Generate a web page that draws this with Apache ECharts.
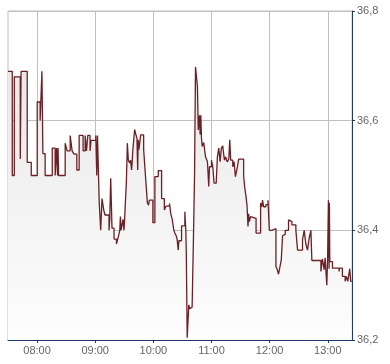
<!DOCTYPE html>
<html>
<head>
<meta charset="utf-8">
<script src="https://cdn.jsdelivr.net/npm/echarts@6/dist/echarts.min.js"></script>
<style>
html,body{margin:0;padding:0;background:#fff;}
#c{width:390px;height:364px;}
</style>
</head>
<body>
<div id="c"></div>
<script>
const times = [
"07:30:00","07:34:24","07:36:30","07:42:40","07:43:30","07:49:50","07:54:00","08:00:10","08:03:10","08:05:00",
"08:06:00","08:08:20","08:15:40","08:18:40","08:20:10","08:21:10","08:21:40","08:22:10","08:29:00","08:31:00",
"08:34:10","08:36:10","08:38:10","08:41:00","08:43:25","08:47:30","08:49:35","08:51:00","08:52:20","08:54:40",
"08:55:40","09:00:35","09:01:35","09:02:20","09:04:10","09:05:40","09:07:00","09:08:50","09:10:05","09:14:15",
"09:15:00","09:16:00","09:17:20","09:19:25","09:21:55","09:23:55","09:25:20","09:26:00","09:26:40","09:28:40",
"09:29:40","09:30:20","09:32:10","09:33:10","09:34:10","09:35:30","09:36:30","09:37:30","09:38:00","09:38:40",
"09:39:45","09:40:40","09:41:45","09:43:05","09:43:50","09:44:20","09:45:05","09:46:55","09:50:00","09:52:00",
"09:53:50","09:55:05","09:55:50","09:59:30","10:01:35","10:05:05","10:08:30","10:11:20","10:13:00","10:16:40",
"10:18:00","10:19:30","10:21:10","10:22:10","10:23:35","10:24:35","10:25:40","10:26:20","10:29:05","10:32:30",
"10:33:30","10:34:00","10:34:55","10:36:35","10:37:35","10:38:40","10:40:00","10:41:25","10:42:30","10:43:30",
"10:45:30","10:46:20","10:47:35","10:48:15","10:49:00","10:49:40","10:50:25","10:52:00","10:53:50","10:55:50",
"10:57:10","10:57:55","11:00:00","11:01:20","11:02:40","11:04:50","11:06:05","11:07:30","11:08:55","11:10:10",
"11:11:35","11:13:20","11:14:40","11:16:05","11:17:50","11:18:50","11:19:50","11:21:55","11:23:20","11:24:40",
"11:26:25","11:28:05","11:33:10","11:34:10","11:35:40","11:36:40","11:37:40","11:38:20","11:39:00","11:40:25",
"11:41:50","11:46:00","11:50:40","11:52:05","11:52:40","11:53:50","11:56:10","11:58:20","11:59:40","12:02:25",
"12:06:30","12:07:35","12:09:10","12:10:40","12:12:00","12:13:20","12:14:25","12:16:05","12:19:30","12:21:00",
"12:23:00","12:27:05","12:28:50","12:33:55","12:35:40","12:37:25","12:39:05","12:40:50","12:42:35","12:43:35",
"12:52:55","12:54:30","12:56:15","12:57:15","12:59:00","12:59:50","13:00:40","13:01:20","13:01:40","13:02:05",
"13:04:50","13:11:40","13:12:10","13:15:05","13:17:55","13:19:10","13:20:40","13:22:40","13:23:40","13:24:40"
];
const prices = [
36.69,36.50,36.68,36.53,36.69,36.524,36.50,36.634,36.60,36.69,
36.54,36.50,36.55,36.50,36.55,36.50,36.55,36.50,36.559,36.545,
36.573,36.545,36.539,36.51,36.573,36.545,36.573,36.545,36.573,36.545,
36.564,36.573,36.50,36.573,36.45,36.40,36.458,36.437,36.428,36.40,
36.42,36.495,36.404,36.384,36.375,36.389,36.40,36.425,36.40,36.42,
36.40,36.42,36.489,36.559,36.528,36.523,36.528,36.51,36.52,36.543,
36.565,36.584,36.576,36.568,36.51,36.565,36.547,36.574,36.547,36.496,
36.45,36.446,36.455,36.414,36.498,36.509,36.458,36.437,36.444,36.449,
36.43,36.42,36.40,36.395,36.39,36.383,36.364,36.381,36.408,36.434,
36.40,36.359,36.204,36.264,36.257,36.26,36.258,36.39,36.50,36.698,
36.662,36.583,36.61,36.575,36.61,36.568,36.553,36.56,36.534,36.525,
36.48,36.516,36.528,36.516,36.486,36.489,36.534,36.55,36.525,36.55,
36.554,36.528,36.534,36.525,36.53,36.565,36.528,36.516,36.525,36.498,
36.513,36.53,36.50,36.48,36.461,36.445,36.407,36.43,36.416,36.425,
36.422,36.395,36.45,36.443,36.455,36.443,36.447,36.455,36.40,36.403,
36.334,36.33,36.32,36.334,36.346,36.39,36.393,36.40,36.419,36.416,
36.41,36.40,36.364,36.383,36.40,36.375,36.364,36.386,36.40,36.345,
36.325,36.348,36.328,36.35,36.30,36.35,36.455,36.33,36.45,36.343,
36.331,36.325,36.331,36.316,36.307,36.316,36.307,36.33,36.307,36.307
];
const hourTicks = ["08:00","09:00","10:00","11:00","12:00","13:00"];
const priceTicks = [36.2, 36.4, 36.6, 36.8];
const xStart = "07:30";
const xEnd = "13:25";

function toMin(t){ const p = t.split(':').map(Number); return p[0]*60 + p[1] + (p[2]||0)/60; }
function fmtMin(v){ const h = Math.floor(v/60), m = Math.round(v - h*60); return (h<10?'0':'')+h+':'+(m<10?'0':'')+m; }

const data = times.map((t,i)=>[toMin(t), prices[i]]);
const font = 'Liberation Sans, Arial, sans-serif';
const chart = echarts.init(document.getElementById('c'), null, {renderer:'canvas'});
chart.setOption({
  animation:false,
  backgroundColor:'#ffffff',
  grid:{left:8,right:38,top:11,bottom:24,show:true,borderColor:'#c0c0c0',borderWidth:1,backgroundColor:'transparent'},
  xAxis:{
    type:'value', min:toMin(xStart), max:toMin(xEnd),
    axisLine:{show:true,lineStyle:{color:'#1c3a6e',width:1}},
    axisTick:{show:true,length:3,lineStyle:{color:'#1c3a6e'},customValues:hourTicks.map(toMin)},
    axisLabel:{show:true,color:'#666666',fontSize:11,fontFamily:font,margin:5,
      customValues:hourTicks.map(toMin), formatter:v=>fmtMin(v)},
    splitLine:{show:true,lineStyle:{color:'#c0c0c0',width:1}}
  },
  yAxis:{
    type:'value', position:'right', min:36.2, max:36.8, interval:0.2,
    axisLine:{show:true,lineStyle:{color:'#1c3a6e',width:1}},
    axisTick:{show:true,length:3,inside:false,lineStyle:{color:'#333333'},customValues:priceTicks},
    axisLabel:{show:true,color:'#666666',fontSize:11,fontFamily:font,margin:5,customValues:priceTicks,
      formatter:v=>v.toFixed(1).replace('.',',')},
    splitLine:{show:true,lineStyle:{color:'#c0c0c0',width:1}}
  },
  series:[{
    type:'line', step:'end', data:data, showSymbol:false, symbol:'none',
    lineStyle:{color:'#6a2025',width:1.3},
    areaStyle:{origin:'start',opacity:1,color:new echarts.graphic.LinearGradient(0,0,0,1,[
      {offset:0,color:'#e9e9e9'},{offset:0.5,color:'#f3f3f3'},{offset:1,color:'#fdfdfd'}])},
    silent:true
  }]
});
</script>
</body>
</html>
